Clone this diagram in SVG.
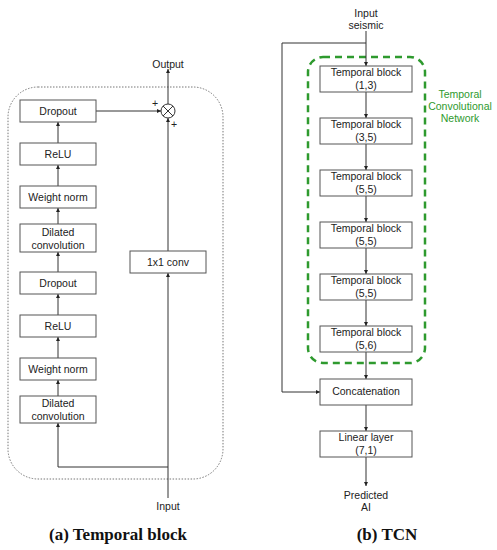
<svg xmlns="http://www.w3.org/2000/svg" width="497" height="550" viewBox="0 0 497 550">
<style>
.box{fill:#fff;stroke:#555;stroke-width:1}
.t{font-family:"Liberation Sans",Arial,sans-serif;font-size:10.5px;fill:#222;text-anchor:middle}
.g{font-family:"Liberation Sans",Arial,sans-serif;font-size:10.5px;fill:#2e9a2e;text-anchor:middle}
.cap{font-family:"Liberation Serif","Times New Roman",serif;font-size:17px;font-weight:bold;fill:#111;text-anchor:middle}
.ln{fill:none;stroke:#333;stroke-width:1}
</style>
<defs>
<marker id="ar" viewBox="0 0 10 10" refX="10" refY="5" markerWidth="4" markerHeight="4" orient="auto" markerUnits="userSpaceOnUse">
<path d="M0,0 L10,5 L0,10 z" fill="#222"/>
</marker>
</defs>
<rect x="8" y="87" width="215" height="392" rx="30" ry="30" fill="none" stroke="#777" stroke-width="1" stroke-dasharray="1.5,1.5"/>
<rect x="308" y="57" width="117" height="306" rx="15" ry="15" fill="none" stroke="#2e9a2e" stroke-width="2.5" stroke-dasharray="7,5"/>
<g id="connectors">
<path class="ln" d="M58,224 L58,208" marker-end="url(#ar)"/>
<path class="ln" d="M58,186 L58,165" marker-end="url(#ar)"/>
<path class="ln" d="M58,143 L58,122" marker-end="url(#ar)"/>
<path class="ln" d="M58,396 L58,380" marker-end="url(#ar)"/>
<path class="ln" d="M58,358 L58,337" marker-end="url(#ar)"/>
<path class="ln" d="M58,315 L58,294" marker-end="url(#ar)"/>
<path class="ln" d="M58,272 L58,252" marker-end="url(#ar)"/>
<path class="ln" d="M168,467 L58,467 L58,423" marker-end="url(#ar)"/>
<path class="ln" d="M168,498 L168,273" marker-end="url(#ar)"/>
<path class="ln" d="M168,251 L168,118" marker-end="url(#ar)"/>
<path class="ln" d="M96,111 L161,111" marker-end="url(#ar)"/>
<path class="ln" d="M168,104 L168,69" marker-end="url(#ar)"/>
<path class="ln" d="M366,31 L366,66" marker-end="url(#ar)"/>
<path class="ln" d="M366,43 L282,43 L282,392 L320,392" marker-end="url(#ar)"/>
<path class="ln" d="M366,92 L366,118" marker-end="url(#ar)"/>
<path class="ln" d="M366,144 L366,170" marker-end="url(#ar)"/>
<path class="ln" d="M366,196 L366,222" marker-end="url(#ar)"/>
<path class="ln" d="M366,248 L366,274" marker-end="url(#ar)"/>
<path class="ln" d="M366,300 L366,326" marker-end="url(#ar)"/>
<path class="ln" d="M366,352 L366,379" marker-end="url(#ar)"/>
<path class="ln" d="M366,405 L366,431" marker-end="url(#ar)"/>
<path class="ln" d="M366,457 L366,486" marker-end="url(#ar)"/>
</g>
<g id="sum">
<circle cx="168" cy="111" r="7" fill="#fff" stroke="#333" stroke-width="1"/>
<path class="ln" d="M163,106 L173,116 M173,106 L163,116"/>
<text class="t" x="155" y="107">+</text>
<text class="t" x="174" y="128">+</text>
</g>
<g id="output"><text class="t" x="168" y="68">Output</text></g>
<g id="input"><text class="t" x="168" y="510">Input</text></g>
<g id="l-dropout2"><rect class="box" x="20" y="100" width="76" height="22"/><text class="t" x="58" y="115">Dropout</text></g>
<g id="l-relu2"><rect class="box" x="20" y="143" width="76" height="22"/><text class="t" x="58" y="158">ReLU</text></g>
<g id="l-wn2"><rect class="box" x="20" y="186" width="76" height="22"/><text class="t" x="58" y="201">Weight norm</text></g>
<g id="l-dc2"><rect class="box" x="20" y="224" width="76" height="28"/><text class="t" x="58" y="236">Dilated</text><text class="t" x="58" y="249">convolution</text></g>
<g id="l-dropout1"><rect class="box" x="20" y="272" width="76" height="22"/><text class="t" x="58" y="287">Dropout</text></g>
<g id="l-relu1"><rect class="box" x="20" y="315" width="76" height="22"/><text class="t" x="58" y="330">ReLU</text></g>
<g id="l-wn1"><rect class="box" x="20" y="358" width="76" height="22"/><text class="t" x="58" y="373">Weight norm</text></g>
<g id="l-dc1"><rect class="box" x="20" y="396" width="76" height="27"/><text class="t" x="58" y="407">Dilated</text><text class="t" x="58" y="420">convolution</text></g>
<g id="conv1x1"><rect class="box" x="130" y="251" width="76" height="22"/><text class="t" x="168" y="266">1x1 conv</text></g>
<g id="in-seismic"><text class="t" x="366" y="17">Input</text><text class="t" x="366" y="29">seismic</text></g>
<g id="tb1"><rect class="box" x="320" y="66" width="92" height="26"/><text class="t" x="366" y="76">Temporal block</text><text class="t" x="366" y="89">(1,3)</text></g>
<g id="tb2"><rect class="box" x="320" y="118" width="92" height="26"/><text class="t" x="366" y="128">Temporal block</text><text class="t" x="366" y="141">(3,5)</text></g>
<g id="tb3"><rect class="box" x="320" y="170" width="92" height="26"/><text class="t" x="366" y="180">Temporal block</text><text class="t" x="366" y="193">(5,5)</text></g>
<g id="tb4"><rect class="box" x="320" y="222" width="92" height="26"/><text class="t" x="366" y="232">Temporal block</text><text class="t" x="366" y="245">(5,5)</text></g>
<g id="tb5"><rect class="box" x="320" y="274" width="92" height="26"/><text class="t" x="366" y="284">Temporal block</text><text class="t" x="366" y="297">(5,5)</text></g>
<g id="tb6"><rect class="box" x="320" y="326" width="92" height="26"/><text class="t" x="366" y="336">Temporal block</text><text class="t" x="366" y="349">(5,6)</text></g>
<g id="tcn-label"><text class="g" x="460" y="98">Temporal</text><text class="g" x="460" y="110">Convolutional</text><text class="g" x="460" y="122">Network</text></g>
<g id="concat"><rect class="box" x="320" y="379" width="92" height="26"/><text class="t" x="366" y="395">Concatenation</text></g>
<g id="linear"><rect class="box" x="320" y="431" width="92" height="26"/><text class="t" x="366" y="441">Linear layer</text><text class="t" x="366" y="454">(7,1)</text></g>
<g id="predicted"><text class="t" x="366" y="499">Predicted</text><text class="t" x="366" y="511">AI</text></g>
<text class="cap" x="118" y="540">(a) Temporal block</text>
<text class="cap" x="387" y="540">(b) TCN</text>
</svg>
